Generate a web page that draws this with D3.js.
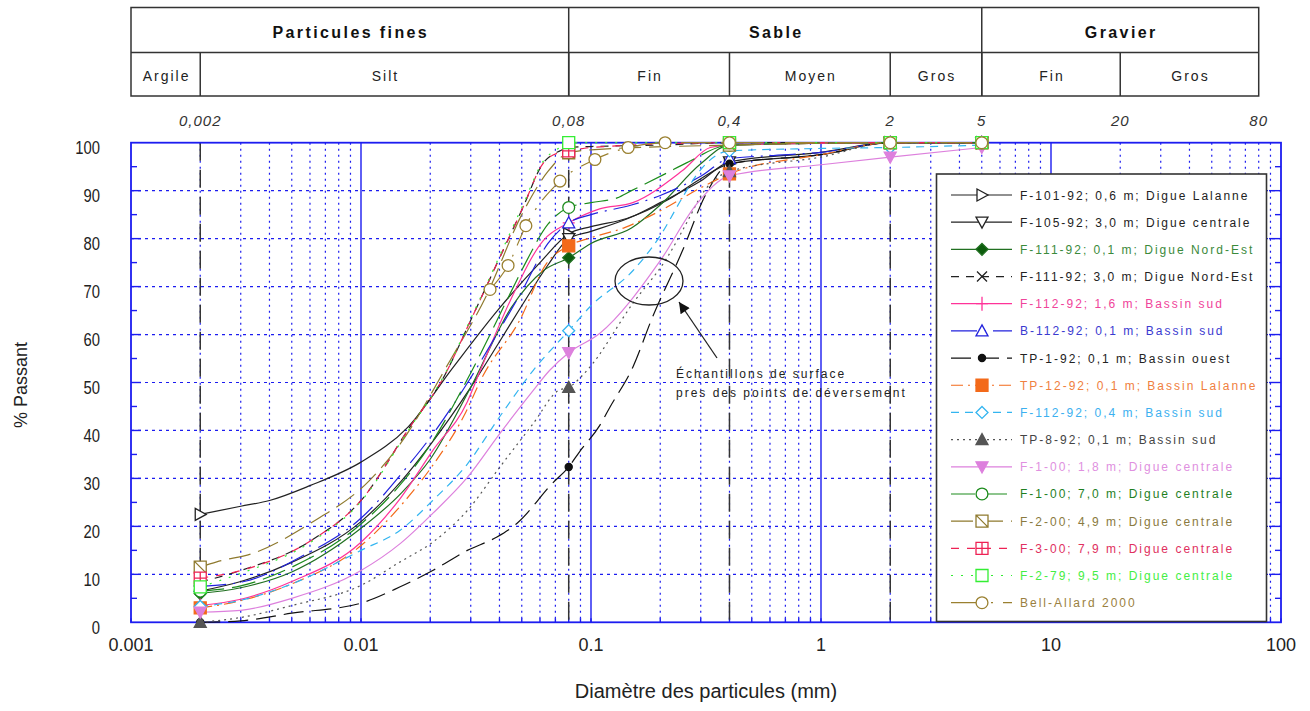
<!DOCTYPE html>
<html>
<head>
<meta charset="utf-8">
<script src="https://cdn.jsdelivr.net/npm/d3@7"></script>
<style>
  body { margin: 0; background: #fff; }
  svg text { font-family: "Liberation Sans", Arial, sans-serif; }
</style>
</head>
<body>
<svg id="chart" width="1310" height="711"></svg>
<script>
// classes granulometriques (mm)
const mainClasses = ['Particules fines', 'Sable', 'Gravier'];
const mainBounds = [0.001, 0.08, 5, 80];
const subClasses = ['Argile', 'Silt', 'Fin', 'Moyen', 'Gros', 'Fin', 'Gros'];
const subBounds = [0.001, 0.002, 0.08, 0.4, 2, 5, 20, 80];
const topTicks = [0.002, 0.08, 0.4, 2, 5, 20, 80];
const topTickLabels = ['0,002', '0,08', '0,4', '2', '5', '20', '80'];
const xTicks = [0.001, 0.01, 0.1, 1, 10, 100];
const xTickLabels = ['0.001', '0.01', '0.1', '1', '10', '100'];
const yTicks = [0, 10, 20, 30, 40, 50, 60, 70, 80, 90, 100];
const limitLines = [0.002, 0.08, 0.4, 2];
const markDiams = [0.002, 0.08, 0.4, 2, 5];

const seriesNames = [
    'F-101-92; 0,6 m; Digue Lalanne',
    'F-105-92; 3,0 m; Digue centrale',
    'F-111-92; 0,1 m; Digue Nord-Est',
    'F-111-92; 3,0 m; Digue Nord-Est',
    'F-112-92; 1,6 m; Bassin sud',
    'B-112-92; 0,1 m; Bassin sud',
    'TP-1-92; 0,1 m; Bassin ouest',
    'TP-12-92; 0,1 m; Bassin Lalanne',
    'F-112-92; 0,4 m; Bassin sud',
    'TP-8-92; 0,1 m; Bassin sud',
    'F-1-00; 1,8 m; Digue centrale',
    'F-1-00; 7,0 m; Digue centrale',
    'F-2-00; 4,9 m; Digue centrale',
    'F-3-00; 7,9 m; Digue centrale',
    'F-2-79; 9,5 m; Digue centrale',
    'Bell-Allard 2000'
];

// [diametre (mm), % passant]
const f101 = [[0.002,22.5],[0.003,24.2],[0.004,25.4],[0.006,28.5],[0.01,33.4],[0.016,40.7],[0.025,53],[0.04,65.5],[0.06,75],[0.08,81],[0.1,82.5],[0.143,84.2],[0.22,88.3],[0.3,92.5],[0.4,95.6],[1,97.5],[2,100],[5,100]];
const f105 = [[0.002,6.5],[0.003,8.5],[0.005,12.5],[0.01,21],[0.015,29.5],[0.02,37],[0.03,49],[0.04,58.5],[0.05,66],[0.065,74.5],[0.08,80],[0.1,81.5],[0.15,84.5],[0.2,87.5],[0.3,92],[0.4,96],[1,98],[2,100],[5,100]];
const f111a = [[0.002,6],[0.003,7.2],[0.005,10.5],[0.01,19.6],[0.015,27],[0.02,34],[0.03,49],[0.045,65.6],[0.062,73.3],[0.08,76],[0.1,79],[0.15,82.2],[0.2,87],[0.3,95.6],[0.4,99.5],[2,100],[5,100]];
const f111b = [[0.002,8.4],[0.003,10.8],[0.006,16.9],[0.01,25.4],[0.0163,40.7],[0.0227,50.8],[0.03,63],[0.039,74.8],[0.0506,86.5],[0.0617,95.6],[0.0733,98.3],[0.08,99],[0.1,99.2],[0.2,99.5],[0.4,100],[2,100],[5,100]];
const f112a = [[0.002,3.5],[0.003,4.8],[0.005,8.5],[0.01,16.7],[0.0148,25.8],[0.0205,35.8],[0.029,46],[0.033,52.5],[0.0445,67],[0.062,79.6],[0.08,83.3],[0.109,86.2],[0.152,87.5],[0.25,94.2],[0.33,99],[0.4,99.5],[2,100],[5,100]];
const b112 = [[0.002,7.5],[0.0031,8.5],[0.0055,13.7],[0.0101,21.9],[0.0163,33.1],[0.02,38.5],[0.03,51],[0.04,61],[0.05,69],[0.065,79],[0.08,83.3],[0.1,85],[0.15,87],[0.2,89],[0.3,93],[0.4,96.7],[0.6,97.3],[1,98],[2,100],[5,100]];
const tp1 = [[0.002,0],[0.003,0.3],[0.005,1.9],[0.01,4],[0.0148,7.4],[0.0205,10.8],[0.029,15],[0.039,17.8],[0.0476,20.6],[0.068,29],[0.08,32.4],[0.089,35.5],[0.109,41],[0.121,44.9],[0.152,53.2],[0.185,63.6],[0.25,77.5],[0.317,89.4],[0.4,95.6],[1,97.5],[2,100],[5,100]];
const tp12 = [[0.002,3],[0.003,4.5],[0.005,8],[0.01,16],[0.015,24.5],[0.02,32],[0.028,43],[0.034,51.5],[0.049,63],[0.064,74.8],[0.08,78.5],[0.1,80.2],[0.14,82.3],[0.2,85.8],[0.3,90.6],[0.4,93.5],[1,97.5],[2,100],[5,100]];
const f112b = [[0.002,3.3],[0.003,4.6],[0.005,8],[0.01,15],[0.0148,19.2],[0.0205,25.4],[0.029,33],[0.04,42.8],[0.056,52.5],[0.08,60.8],[0.1,66],[0.152,73.3],[0.2,80.6],[0.25,88.6],[0.29,93.5],[0.4,98.3],[1,98.8],[2,99],[5,99.5]];
const tp8 = [[0.002,0],[0.003,1],[0.005,3.5],[0.01,7.7],[0.0148,12.6],[0.0205,16.7],[0.029,23.3],[0.0402,32.4],[0.056,41.4],[0.072,48.3],[0.08,49],[0.096,52.5],[0.152,66.5],[0.214,76],[0.268,84.4],[0.297,88.5],[0.4,94],[1,97],[2,100],[5,100]];
const f100a = [[0.002,2.1],[0.003,2.5],[0.005,5],[0.01,10.8],[0.0148,16.4],[0.0205,22.7],[0.029,30.2],[0.0402,39.4],[0.056,48.3],[0.066,52.5],[0.08,56.2],[0.109,60.2],[0.2,75.4],[0.289,87.3],[0.4,93.1],[1,95.4],[2,97],[5,99]];
const f100b = [[0.002,6.5],[0.003,7.6],[0.005,11.5],[0.01,20.5],[0.015,29],[0.02,37],[0.03,52],[0.045,69],[0.052,75],[0.065,83],[0.08,86.5],[0.1,87.5],[0.13,88.5],[0.15,90],[0.21,93.5],[0.26,95.8],[0.4,99.5],[2,100],[5,100]];
const f200 = [[0.002,11.5],[0.00236,12.6],[0.0034,14.4],[0.006,20.6],[0.0109,29.6],[0.0143,36.2],[0.0244,54.6],[0.035,68],[0.05,85],[0.065,94],[0.08,97.9],[0.1,98.5],[0.4,99.5],[2,100],[5,100]];
const f300 = [[0.002,9.2],[0.003,10.8],[0.006,16.9],[0.01,25.4],[0.0163,40.7],[0.0227,50.8],[0.03,63],[0.039,74.8],[0.0506,86.5],[0.0617,95.6],[0.0733,98],[0.08,98.3],[0.1,99],[0.4,100],[2,100],[5,100]];
const f279 = [[0.002,7.4],[0.003,10.2],[0.006,16.6],[0.01,25.2],[0.0163,40.5],[0.0227,51],[0.03,63.3],[0.039,75.2],[0.0506,87],[0.0617,96],[0.0733,99],[0.08,100],[0.4,100],[2,100],[5,100]];
const bellAllard = [[0.0364,69.4],[0.0436,74.4],[0.0521,82.7],[0.0733,92],[0.104,96.5],[0.145,99],[0.21,100],[0.4,100],[2,100],[5,100]];

const seriesValues = [f101, f105, f111a, f111b, f112a, b112, tp1, tp12, f112b, tp8, f100a, f100b, f200, f300, f279, bellAllard];

const seriesStyles = [
    { line: '#222', text: '#222', dash: null, marker: 'triRight', fill: '#fff' },
    { line: '#222', text: '#222', dash: null, marker: 'triDown', fill: '#fff' },
    { line: '#217021', text: '#3b8a3b', dash: null, marker: 'diamond', fill: '#0d5c0d' },
    { line: '#222', text: '#222', dash: '8,7', marker: 'cross', fill: 'none' },
    { line: '#ff3399', text: '#f0449a', dash: null, marker: 'plus', fill: 'none' },
    { line: '#2222dd', text: '#3a3ad0', dash: '26,7,2,7', marker: 'triUp', fill: '#fff' },
    { line: '#111', text: '#222', dash: '20,8', marker: 'dot', fill: '#111' },
    { line: '#f36a1a', text: '#f08040', dash: '12,5,2,5', marker: 'square', fill: '#f36a1a' },
    { line: '#33b5f0', text: '#3cb0f0', dash: '8,6', marker: 'diamond', fill: '#fff' },
    { line: '#555', text: '#444', dash: '2,4', marker: 'triUp', fill: '#555' },
    { line: '#dd80dd', text: '#e090e0', dash: null, marker: 'triDown', fill: '#dd80dd' },
    { line: '#1c8c1c', text: '#1f7f1f', dash: '24,8', marker: 'circle', fill: '#fff' },
    { line: '#8f7a2e', text: '#8a7a40', dash: '22,8', marker: 'squareDiag', fill: '#fff' },
    { line: '#ee2255', text: '#e03060', dash: '8,8', marker: 'squareCross', fill: '#fff' },
    { line: '#33ee33', text: '#44ee44', dash: '2,8', marker: 'square', fill: '#fff' },
    { line: '#9a8030', text: '#9a8040', dash: '30,10,2,10', marker: 'circle', fill: '#fff', allMarks: true }
];

const svg = d3.select('#chart');
const x = d3.scaleLog().domain([0.001, 100]).range([131, 1281]);
const y = d3.scaleLinear().domain([0, 100]).range([622.3, 142.7]);
const blue = '#1c1cf0';
const isDecade = t => Math.abs(Math.log10(t) - Math.round(Math.log10(t))) < 1e-9;

// ---- tableau des classes
const hdr = svg.append('g');
const hTop = 7.5, hMid = 52.5, hBot = 96;
hdr.append('rect')
    .attr('x', x(mainBounds[0])).attr('y', hTop)
    .attr('width', x(80) - x(0.001)).attr('height', hBot - hTop)
    .attr('fill', 'none').attr('stroke', '#333').attr('stroke-width', 1.5);
hdr.append('line')
    .attr('x1', x(0.001)).attr('x2', x(80)).attr('y1', hMid).attr('y2', hMid)
    .attr('stroke', '#333').attr('stroke-width', 1.5);
hdr.selectAll('line.main').data(mainBounds.slice(1, -1)).join('line')
    .attr('x1', d => x(d)).attr('x2', d => x(d)).attr('y1', hTop).attr('y2', hBot)
    .attr('stroke', '#333').attr('stroke-width', 1.5);
hdr.selectAll('line.sub').data(subBounds.slice(1, -1)).join('line')
    .attr('x1', d => x(d)).attr('x2', d => x(d)).attr('y1', hMid).attr('y2', hBot)
    .attr('stroke', '#333').attr('stroke-width', 1.5);
hdr.selectAll('text.main').data(mainClasses).join('text')
    .attr('x', (d, i) => (x(mainBounds[i]) + x(mainBounds[i + 1])) / 2 + 1)
    .attr('y', 37.5)
    .attr('text-anchor', 'middle').attr('font-size', 16).attr('font-weight', 'bold')
    .attr('letter-spacing', 2.4).attr('fill', '#111')
    .text(d => d);
hdr.selectAll('text.sub').data(subClasses).join('text')
    .attr('x', (d, i) => (x(subBounds[i]) + x(subBounds[i + 1])) / 2 + 1)
    .attr('y', 80.5)
    .attr('text-anchor', 'middle').attr('font-size', 14)
    .attr('letter-spacing', 2).attr('fill', '#222')
    .text(d => d);
svg.selectAll('text.top').data(topTicks).join('text')
    .attr('x', d => x(d)).attr('y', 126)
    .attr('text-anchor', 'middle').attr('font-size', 15).attr('font-style', 'italic')
    .attr('letter-spacing', 1).attr('fill', '#333')
    .text((d, i) => topTickLabels[i]);

// ---- grille
const grid = svg.append('g');
const allTicks = x.ticks();
grid.selectAll('line.vmin').data(allTicks.filter(t => !isDecade(t))).join('line')
    .attr('x1', d => x(d)).attr('x2', d => x(d)).attr('y1', y(100)).attr('y2', y(0))
    .attr('stroke', blue).attr('stroke-width', 1.2).attr('stroke-dasharray', '2,4');
grid.selectAll('line.vdec').data(xTicks.slice(1, -1)).join('line')
    .attr('x1', d => x(d)).attr('x2', d => x(d)).attr('y1', y(100)).attr('y2', y(0))
    .attr('stroke', blue).attr('stroke-width', 1.4);
grid.selectAll('line.h').data(yTicks.slice(1, -1)).join('line')
    .attr('x1', x(0.001)).attr('x2', x(100)).attr('y1', d => y(d)).attr('y2', d => y(d))
    .attr('stroke', blue).attr('stroke-width', 1.2).attr('stroke-dasharray', '3,4');
// petits traits d'axes
const halfTicks = yTicks.slice(0, -1).map(v => v + 5);
grid.selectAll('line.lt').data(halfTicks).join('line')
    .attr('x1', x(0.001)).attr('x2', x(0.001) + 6).attr('y1', d => y(d)).attr('y2', d => y(d))
    .attr('stroke', blue).attr('stroke-width', 1.4);
grid.selectAll('line.rt').data(halfTicks).join('line')
    .attr('x1', x(100)).attr('x2', x(100) - 6).attr('y1', d => y(d)).attr('y2', d => y(d))
    .attr('stroke', blue).attr('stroke-width', 1.4);
grid.selectAll('line.lt10').data(yTicks.slice(1, -1)).join('line')
    .attr('x1', x(0.001)).attr('x2', x(0.001) + 10).attr('y1', d => y(d)).attr('y2', d => y(d))
    .attr('stroke', blue).attr('stroke-width', 1.4);
grid.selectAll('line.rt10').data(yTicks.slice(1, -1)).join('line')
    .attr('x1', x(100)).attr('x2', x(100) - 12).attr('y1', d => y(d)).attr('y2', d => y(d))
    .attr('stroke', blue).attr('stroke-width', 1.4);
grid.selectAll('line.bt').data(allTicks).join('line')
    .attr('x1', d => x(d)).attr('x2', d => x(d)).attr('y1', y(0)).attr('y2', y(0) - 4)
    .attr('stroke', blue).attr('stroke-width', 1.4);

// limites des classes
svg.append('g').selectAll('line').data(limitLines).join('line')
    .attr('x1', d => x(d)).attr('x2', d => x(d)).attr('y1', y(100)).attr('y2', y(0))
    .attr('stroke', '#333').attr('stroke-width', 1.5).attr('stroke-dasharray', '18,9');

svg.append('rect')
    .attr('x', x(0.001)).attr('y', y(100))
    .attr('width', x(100) - x(0.001)).attr('height', y(0) - y(100))
    .attr('fill', 'none').attr('stroke', blue).attr('stroke-width', 1.8);

// ---- courbes
function markerPath(type) {
    switch (type) {
        case 'triRight': return 'M-5,-6L6,0L-5,6Z';
        case 'triDown': return 'M-6,-5L6,-5L0,6Z';
        case 'triUp': return 'M0,-6L6,5L-6,5Z';
        case 'diamond': return 'M0,-6L6,0L0,6L-6,0Z';
        case 'cross': return 'M-5,-5L5,5M-5,5L5,-5';
        case 'plus': return 'M0,-7L0,7M-6,0L6,0';
        case 'square': return 'M-6,-6H6V6H-6Z';
        case 'squareDiag': return 'M-6,-6H6V6H-6ZM-6,-6L6,6';
        case 'squareCross': return 'M-6,-6H6V6H-6ZM0,-6V6M-6,0H6';
        case 'circle': return d3.symbol(d3.symbolCircle, 110)();
        case 'dot': return d3.symbol(d3.symbolCircle, 40)();
    }
}

const line = d3.line().x(d => x(d[0])).y(d => y(d[1])).curve(d3.curveMonotoneX);
const curves = svg.append('g');
seriesValues.forEach((vals, i) => {
    const s = seriesStyles[i];
    curves.append('path')
        .attr('d', line(vals))
        .attr('fill', 'none').attr('stroke', s.line).attr('stroke-width', 1.2)
        .attr('stroke-dasharray', s.dash);
});
const marks = svg.append('g');
seriesValues.forEach((vals, i) => {
    const s = seriesStyles[i];
    const pts = s.allMarks ? vals : vals.filter(d => markDiams.includes(d[0]));
    marks.selectAll(null).data(pts).join('path')
        .attr('transform', d => `translate(${x(d[0])},${y(d[1])})`)
        .attr('d', markerPath(s.marker))
        .attr('fill', s.fill).attr('stroke', s.line).attr('stroke-width', 1.3);
});

// ---- axes texte
svg.selectAll('text.yl').data(yTicks).join('text')
    .attr('transform', d => `translate(100,${y(d) + 11.5}) scale(0.78,1)`)
    .attr('text-anchor', 'end').attr('font-size', 19).attr('fill', '#222')
    .text(d => d);
svg.selectAll('text.xl').data(xTicks).join('text')
    .attr('x', d => x(d)).attr('y', 651)
    .attr('text-anchor', 'middle').attr('font-size', 18).attr('fill', '#222')
    .text((d, i) => xTickLabels[i]);
svg.append('text')
    .attr('x', 706).attr('y', 698)
    .attr('text-anchor', 'middle').attr('font-size', 20).attr('fill', '#222')
    .text('Diamètre des particules (mm)');
svg.append('text')
    .attr('transform', 'translate(27,385) rotate(-90)')
    .attr('text-anchor', 'middle').attr('font-size', 18).attr('fill', '#222')
    .text('% Passant');

// ---- legende
const lg = svg.append('g');
lg.append('rect')
    .attr('x', 936.5).attr('y', 174).attr('width', 330).attr('height', 447.5)
    .attr('fill', '#fff').attr('stroke', '#333').attr('stroke-width', 1.6);
const rowY = d3.scaleLinear().domain([0, seriesNames.length - 1]).range([195, 602.7]);
seriesNames.forEach((name, i) => {
    const s = seriesStyles[i];
    const ry = rowY(i);
    lg.append('line')
        .attr('x1', 951).attr('x2', 1012).attr('y1', ry).attr('y2', ry)
        .attr('stroke', s.line).attr('stroke-width', 1.2).attr('stroke-dasharray', s.dash);
    lg.append('path')
        .attr('transform', `translate(982,${ry})`)
        .attr('d', markerPath(s.marker))
        .attr('fill', s.fill).attr('stroke', s.line).attr('stroke-width', 1.3);
    lg.append('text')
        .attr('x', 1020).attr('y', ry + 4.5)
        .attr('font-size', 12).attr('letter-spacing', 2).attr('fill', s.text)
        .text(name);
});

// ---- annotation
const defs = svg.append('defs');
defs.append('marker')
    .attr('id', 'arrow').attr('viewBox', '0 0 10 10')
    .attr('refX', 10).attr('refY', 5)
    .attr('markerUnits', 'userSpaceOnUse')
    .attr('markerWidth', 15).attr('markerHeight', 11)
    .attr('orient', 'auto')
    .append('path').attr('d', 'M0,0L10,5L0,10Z').attr('fill', '#111');
const ann = svg.append('g');
ann.append('ellipse')
    .attr('cx', 649).attr('cy', 281).attr('rx', 34).attr('ry', 24)
    .attr('fill', 'none').attr('stroke', '#222').attr('stroke-width', 1.3);
ann.append('line')
    .attr('x1', 717).attr('y1', 358).attr('x2', 679).attr('y2', 302)
    .attr('stroke', '#222').attr('stroke-width', 1.3)
    .attr('marker-end', 'url(#arrow)');
ann.selectAll('text').data(['Échantillons de surface', 'pres des points de déversement']).join('text')
    .attr('x', 676).attr('y', (d, i) => 378 + i * 19)
    .attr('font-size', 12).attr('letter-spacing', 2).attr('fill', '#222')
    .text(d => d);
</script>
</body>
</html>
